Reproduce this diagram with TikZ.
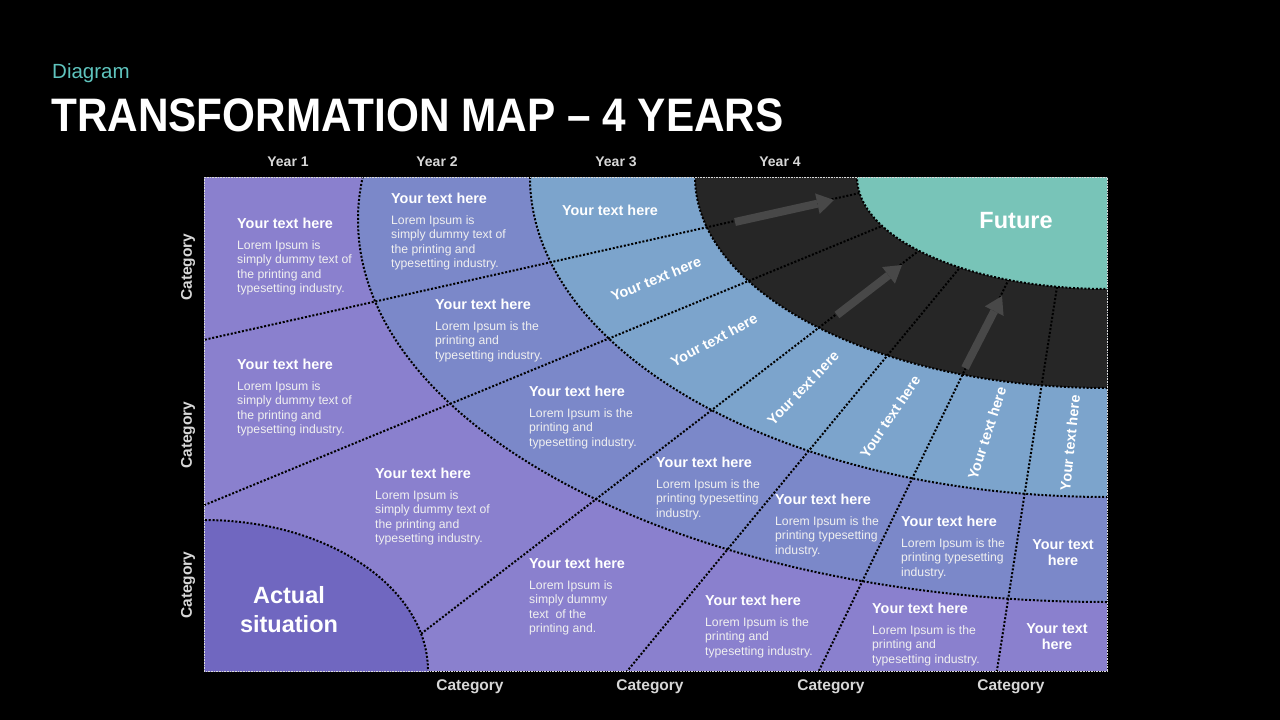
\documentclass[tikz,border=0pt]{standalone}
\usepackage{fontspec}
\setmainfont{Liberation Sans}
\newfontfamily\narrowfont[FakeStretch=0.9]{Liberation Sans}
\usetikzlibrary{arrows.meta}

\definecolor{outerpurple}{RGB}{138,128,206}
\definecolor{actualpurple}{RGB}{112,103,192}
\definecolor{midblue}{RGB}{123,136,201}
\definecolor{ringblue}{RGB}{124,164,204}
\definecolor{darkband}{RGB}{38,38,38}
\definecolor{futureteal}{RGB}{120,196,184}
\definecolor{diagteal}{RGB}{95,196,190}
\definecolor{arrowgray}{RGB}{72,72,72}
\definecolor{labelgray}{RGB}{215,215,215}

\begin{document}
\begin{tikzpicture}[x=1pt, y=-1pt,
  sep/.style={line width=2pt, dash pattern=on 2pt off 1.8pt, black},
  head/.style={text=white, font=\bfseries\fontsize{14.4}{16}\selectfont,
    inner sep=0pt, anchor=base west},
  body/.style={text=white!94!black, font=\fontsize{12.2}{14.3}\selectfont,
    inner sep=0pt, align=left, anchor=north west},
  ringtxt/.style={text=white, font=\bfseries\fontsize{14.4}{16}\selectfont, inner sep=0pt},
  boxtxt/.style={text=white, font=\bfseries\fontsize{14.4}{16}\selectfont,
    inner sep=0pt, align=center},
  bigtxt/.style={text=white, font=\bfseries\fontsize{23.5}{29}\selectfont,
    inner sep=0pt, align=center},
  cattxt/.style={text=labelgray, font=\bfseries\fontsize{15.5}{18}\selectfont, inner sep=0pt},
  yeartxt/.style={text=labelgray, font=\bfseries\fontsize{14}{16}\selectfont, inner sep=0pt},
  fwdarrow/.style={line width=8pt, arrowgray,
    -{Triangle[width=21pt, length=17pt, line width=0pt]}}
]
\def\cx{1107}
\def\cy{177}

\useasboundingbox (0,0) rectangle (1280,720);
\fill[black] (0,0) rectangle (1280,720);

% radial separators
\coordinate (L0s) at (190,343);  \coordinate (L0e) at (900,184);
\coordinate (L1s) at (190,511);  \coordinate (L1e) at (950,198);
\coordinate (L2s) at (400,650);  \coordinate (L2e) at (960,219);
\coordinate (L3s) at (619,681);  \coordinate (L3e) at (990,231);
\coordinate (L4s) at (814,681);  \coordinate (L4e) at (1020,256);
\coordinate (L5s) at (995,683);  \coordinate (L5e) at (1062,255);

\begin{scope}
  \clip (204,177) rectangle (1107,671);
  \fill[outerpurple] (204,177) rectangle (1107,671);
  \fill[midblue] (\cx,220) ellipse [x radius=749, y radius=382];
  \fill[ringblue] (\cx,\cy) ellipse [x radius=577, y radius=320];
  \fill[darkband] (\cx,\cy) ellipse [x radius=412, y radius=211];
  \foreach \i in {0,...,5}
    \draw[sep] (L\i s) -- (L\i e);
  \fill[actualpurple] (204,671) ellipse [x radius=224, y radius=151];
  \fill[futureteal] (\cx,\cy) ellipse [x radius=250, y radius=112];

  \draw[sep] (\cx,220) ellipse [x radius=749, y radius=382];
  \draw[sep] (\cx,\cy) ellipse [x radius=577, y radius=320];
  \draw[sep] (\cx,\cy) ellipse [x radius=412, y radius=211];
  \draw[sep] (\cx,\cy) ellipse [x radius=250, y radius=112];
  \draw[sep] (204,671) ellipse [x radius=224, y radius=151];
\end{scope}
\draw[white!70!gray, line width=0.8pt, dash pattern=on 0.8pt off 0.8pt]
  (204,177) rectangle (1107,671);

% arrows in the dark band
\coordinate (a1s) at (735,222); \coordinate (a1e) at (834,200);
\coordinate (a2s) at (837,315); \coordinate (a2e) at (902,265);
\coordinate (a3s) at (965,368); \coordinate (a3e) at (1002,296);
\foreach \i in {1,2,3}
  \draw[fwdarrow] (a\i s) -- (a\i e);

% title
\node[text=diagteal, font=\fontsize{20.5}{24}\selectfont, inner sep=0pt, anchor=base west]
  (subtitle) at (52,78) {Diagram};
\node[text=white, font=\narrowfont\bfseries\fontsize{47}{52}\selectfont, inner sep=0pt,
  anchor=base west] (title) at (51,131) {TRANSFORMATION MAP – 4 YEARS};

% axis labels
\node[yeartxt] (yr1) at (288,162) {Year 1};
\node[yeartxt] (yr2) at (437,162) {Year 2};
\node[yeartxt] (yr3) at (616,162) {Year 3};
\node[yeartxt] (yr4) at (780,162) {Year 4};
\foreach \nm/\px in {cb1/470, cb2/650, cb3/831, cb4/1011}
  \node[cattxt] (\nm) at (\px,687) {Category};
\foreach \nm/\py in {cl1/267, cl2/435, cl3/585}
  \node[cattxt, rotate=90] (\nm) at (188,\py) {Category};

% text cells
\foreach \nm/\px/\py/\bodytxt in {
  c1/237/228/{Lorem Ipsum is\\simply dummy text of\\the printing and\\typesetting industry.},
  c2/391/203/{Lorem Ipsum is\\simply dummy text of\\the printing and\\typesetting industry.},
  c3/435/309/{Lorem Ipsum is the\\printing and\\typesetting industry.},
  c4/237/369/{Lorem Ipsum is\\simply dummy text of\\the printing and\\typesetting industry.},
  c5/529/396/{Lorem Ipsum is the\\printing and\\typesetting industry.},
  c6/375/478/{Lorem Ipsum is\\simply dummy text of\\the printing and\\typesetting industry.},
  c7/656/467/{Lorem Ipsum is the\\printing typesetting\\industry.},
  c8/775/504/{Lorem Ipsum is the\\printing typesetting\\industry.},
  c9/901/526/{Lorem Ipsum is the\\printing typesetting\\industry.},
  c10/529/568/{Lorem Ipsum is\\simply dummy\\text~ of the\\printing and.},
  c11/705/605/{Lorem Ipsum is the\\printing and\\typesetting industry.},
  c12/872/613/{Lorem Ipsum is the\\printing and\\typesetting industry.}}{
  \node[head] (\nm-h) at (\px,\py) {Your text here};
  \node[body] (\nm-b) at ([yshift=-12.6pt]\nm-h.base west) {\bodytxt};
}

% ring labels
\foreach \nm/\px/\py/\ang in {r0/610/210/0, r1/656/279/22, r2/714/340/28,
  r3/803/388/46, r4/890/417/56, r5/987/433/72, r6/1070/443/84}
  \node[ringtxt, rotate=\ang] (\nm) at (\px,\py) {Your text here};

\node[boxtxt] (side1) at (1063,553) {Your text\\here};
\node[boxtxt] (side2) at (1057,637) {Your text\\here};

\node[bigtxt] (future) at (1016,221) {Future};
\node[bigtxt] (actual) at (289,610) {Actual\\situation};
\end{tikzpicture}
\end{document}
